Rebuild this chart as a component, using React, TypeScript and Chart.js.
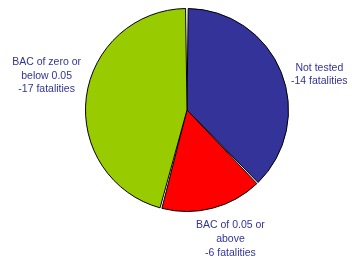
import React, { useEffect, useRef } from "react";
import { Chart, registerables } from "chart.js";

Chart.register(...registerables);

const categories: string[][] = [
  ["Not tested", "-14 fatalities"],
  ["BAC of 0.05 or", "above", "-6 fatalities"],
  ["BAC of zero or", "below 0.05", "-17 fatalities"],
];
const fatalities: number[] = [14, 6, 17];
const colors: string[] = ["#333399", "#ff0000", "#99cc00"];
// label anchor offsets relative to pie centre, as a fraction of the radius
const labelOffsets: [number, number][] = [
  [1.31, -0.35],
  [0.43, 1.28],
  [-1.39, -0.34],
];

const labelPlugin = {
  id: "sliceLabels",
  afterDatasetsDraw(chart: any) {
    const meta = chart.getDatasetMeta(0);
    const ctx = chart.ctx;
    ctx.save();
    ctx.font = '10.5px "Liberation Sans", Arial, sans-serif';
    ctx.fillStyle = "#333399";
    ctx.textAlign = "center";
    ctx.textBaseline = "middle";
    const lineH = 13.8;
    meta.data.forEach((arc: any, i: number) => {
      const { x, y, outerRadius } = arc.getProps(["x", "y", "outerRadius"], true);
      const lines = categories[i];
      const cx = x + labelOffsets[i][0] * outerRadius;
      const cy = y + labelOffsets[i][1] * outerRadius;
      const top = cy - ((lines.length - 1) * lineH) / 2;
      lines.forEach((t, j) => ctx.fillText(t, cx, top + j * lineH));
    });
    ctx.restore();
  },
};

export default function App() {
  const ref = useRef<HTMLCanvasElement>(null);
  useEffect(() => {
    if (!ref.current) return;
    const chart = new Chart(ref.current, {
      type: "pie",
      data: {
        labels: categories.map((l) => l.join(" ")),
        datasets: [
          {
            data: fatalities,
            backgroundColor: colors,
            borderColor: "#000000",
            borderWidth: 1,
            spacing: 1,
          },
        ],
      },
      options: {
        responsive: false,
        animation: false,
        layout: { padding: { left: 85, right: 63, top: 8, bottom: 49 } },
        plugins: {
          legend: { display: false },
          tooltip: { enabled: false },
        },
      },
      plugins: [labelPlugin],
    });
    return () => chart.destroy();
  }, []);
  return (
    <div style={{ position: "fixed", left: 0, top: 0, width: 352, height: 261, background: "#fff" }}>
      <canvas ref={ref} width={352} height={261} />
    </div>
  );
}
